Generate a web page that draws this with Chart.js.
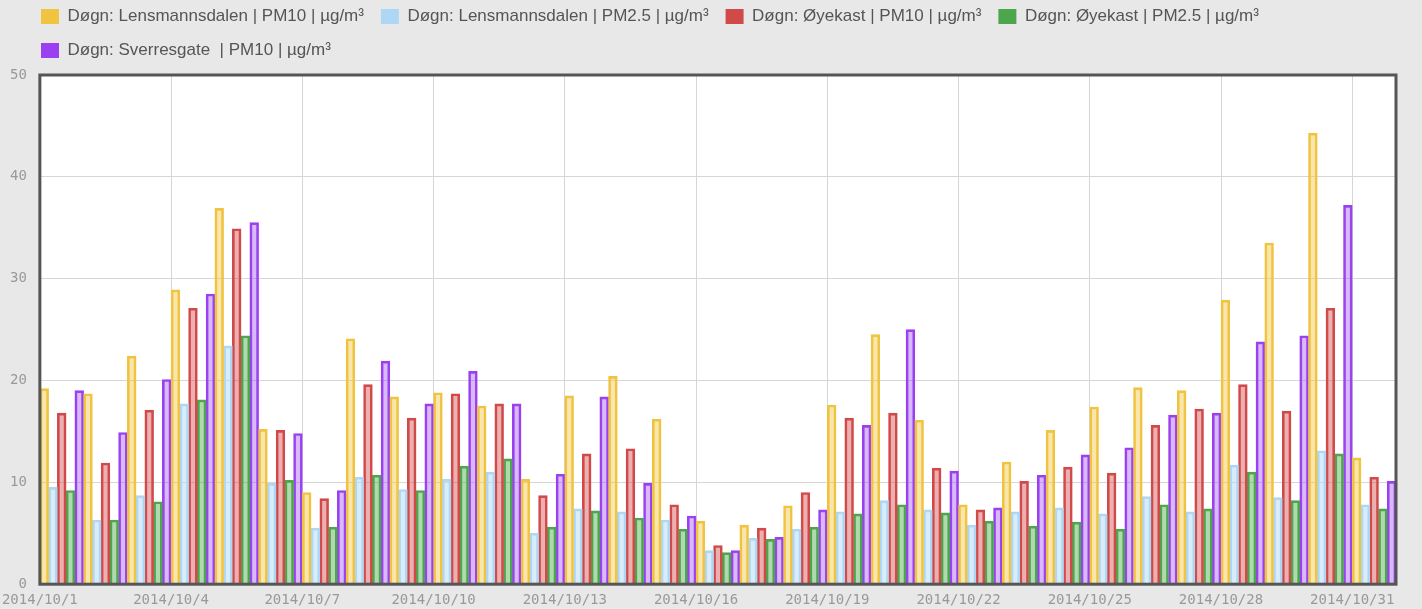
<!DOCTYPE html>
<html>
<head>
<meta charset="utf-8">
<script src="https://cdn.jsdelivr.net/npm/chart.js@4.4.1/dist/chart.umd.min.js"></script>
<style>
  html, body { margin: 0; padding: 0; background: #e8e8e8; }
  #wrap { width: 1422px; height: 609px; position: relative; }
</style>
</head>
<body>
<div id="wrap"><canvas id="pmChart"></canvas></div>
<script>
// Categories (one per day)
const dates = [
    '2014/10/1', '2014/10/2', '2014/10/3', '2014/10/4', '2014/10/5', '2014/10/6', '2014/10/7',
    '2014/10/8', '2014/10/9', '2014/10/10', '2014/10/11', '2014/10/12', '2014/10/13', '2014/10/14',
    '2014/10/15', '2014/10/16', '2014/10/17', '2014/10/18', '2014/10/19', '2014/10/20', '2014/10/21',
    '2014/10/22', '2014/10/23', '2014/10/24', '2014/10/25', '2014/10/26', '2014/10/27', '2014/10/28',
    '2014/10/29', '2014/10/30', '2014/10/31'
];
const xTickLabels = ['2014/10/1', '2014/10/4', '2014/10/7', '2014/10/10', '2014/10/13', '2014/10/16',
    '2014/10/19', '2014/10/22', '2014/10/25', '2014/10/28', '2014/10/31'];
const yTicks = [0, 10, 20, 30, 40, 50];

// Series values (µg/m³)
const lensPM10 = [19.2, 18.7, 22.4, 28.9, 36.9, 15.2, 9.0, 24.1, 18.4, 18.8, 17.5, 10.3, 18.5, 20.4, 16.2,
    6.2, 5.8, 7.7, 17.6, 24.5, 16.1, 7.8, 12.0, 15.1, 17.4, 19.3, 19.0, 27.9, 33.5, 44.3, 12.4];
const lensPM25 = [9.5, 6.3, 8.7, 17.7, 23.4, 9.9, 5.5, 10.5, 9.3, 10.3, 11.0, 5.0, 7.4, 7.1, 6.3,
    3.3, 4.5, 5.4, 7.1, 8.2, 7.3, 5.8, 7.1, 7.5, 6.9, 8.6, 7.1, 11.7, 8.5, 13.1, 7.8];
const oyePM10 = [16.8, 11.9, 17.1, 27.1, 34.9, 15.1, 8.4, 19.6, 16.3, 18.7, 17.7, 8.7, 12.8, 13.3, 7.8,
    3.8, 5.5, 9.0, 16.3, 16.8, 11.4, 7.3, 10.1, 11.5, 10.9, 15.6, 17.2, 19.6, 17.0, 27.1, 10.5];
const oyePM25 = [9.2, 6.3, 8.1, 18.1, 24.4, 10.2, 5.6, 10.7, 9.2, 11.6, 12.3, 5.6, 7.2, 6.5, 5.4,
    3.1, 4.4, 5.6, 6.9, 7.8, 7.0, 6.2, 5.7, 6.1, 5.4, 7.8, 7.4, 11.0, 8.2, 12.8, 7.4];
const sverrePM10 = [19.0, 14.9, 20.1, 28.5, 35.5, 14.8, 9.2, 21.9, 17.7, 20.9, 17.7, 10.8, 18.4, 9.9, 6.7,
    3.3, 4.6, 7.3, 15.6, 25.0, 11.1, 7.5, 10.7, 12.7, 13.4, 16.6, 16.8, 23.8, 24.4, 37.2, 10.1];

const seriesNames = [
    'Døgn: Lensmannsdalen | PM10 | µg/m³',
    'Døgn: Lensmannsdalen | PM2.5 | µg/m³',
    'Døgn: Øyekast | PM10 | µg/m³',
    'Døgn: Øyekast | PM2.5 | µg/m³',
    'Døgn: Sverresgate  | PM10 | µg/m³'
];

const monoFont = "'DejaVu Sans Mono', monospace";
const gridColor = '#d6d6d6';

function makeSet(label, data, border, fill) {
    return {
        label: label,
        data: data,
        backgroundColor: fill,
        borderColor: border,
        borderWidth: 2,
        xAxisID: 'x',
        yAxisID: 'y'
    };
}

// plot background + frame
const plotFrame = {
    id: 'plotFrame',
    beforeDraw(chart) {
        const { ctx, chartArea: a } = chart;
        ctx.save();
        ctx.fillStyle = '#ffffff';
        ctx.fillRect(a.left, a.top, a.right - a.left, a.bottom - a.top);
        ctx.restore();
    },
    afterDatasetsDraw(chart) {
        const { ctx, chartArea: a } = chart;
        ctx.save();
        ctx.strokeStyle = '#555555';
        ctx.lineWidth = 3;
        ctx.strokeRect(a.left, a.top, a.right - a.left, a.bottom - a.top);
        ctx.restore();
    }
};

// nudge legend to the left/top like the original
const legendShift = {
    id: 'legendShift',
    afterLayout(chart) {
        chart.legend.left += 27;
        chart.legend.top -= 6;
    }
};

const ctx = document.getElementById('pmChart').getContext('2d');
new Chart(ctx, {
    type: 'bar',
    data: {
        labels: dates,
        datasets: [
            makeSet(seriesNames[0], lensPM10, '#f0c341', 'rgba(242, 200, 70, 0.45)'),
            makeSet(seriesNames[1], lensPM25, '#add7f5', 'rgba(180, 218, 246, 0.5)'),
            makeSet(seriesNames[2], oyePM10, '#d04a4a', 'rgba(212, 80, 80, 0.45)'),
            makeSet(seriesNames[3], oyePM25, '#4ca64c', 'rgba(80, 170, 80, 0.45)'),
            makeSet(seriesNames[4], sverrePM10, '#9b40f0', 'rgba(160, 80, 242, 0.4)')
        ]
    },
    options: {
        responsive: true,
        maintainAspectRatio: false,
        animation: false,
        layout: {
            padding: { top: -3, right: 26, bottom: 0, left: -3 }
        },
        datasets: {
            bar: {
                categoryPercentage: 1.0,
                barPercentage: 1.0
            }
        },
        plugins: {
            tooltip: { enabled: false },
            legend: {
                position: 'top',
                align: 'start',
                labels: {
                    boxWidth: 18,
                    boxHeight: 15,
                    padding: 17,
                    color: '#555555',
                    font: { family: "'Liberation Sans', Arial, sans-serif", size: 17 },
                    generateLabels(chart) {
                        const items = Chart.defaults.plugins.legend.labels.generateLabels(chart);
                        items.forEach(it => {
                            it.fillStyle = it.strokeStyle;
                            it.lineWidth = 0;
                        });
                        return items;
                    }
                }
            }
        },
        scales: {
            x: {
                type: 'category',
                display: false,
                offset: true
            },
            x2: {
                type: 'linear',
                position: 'bottom',
                min: 0,
                max: dates.length,
                offset: false,
                afterBuildTicks(scale) {
                    scale.ticks = xTickLabels.map(l => ({ value: dates.indexOf(l) }));
                },
                ticks: {
                    autoSkip: false,
                    maxRotation: 0,
                    padding: 0,
                    color: '#999999',
                    font: { family: monoFont, size: 14 },
                    callback: function(value) {
                        return dates[value];
                    }
                },
                grid: {
                    offset: false,
                    color: gridColor,
                    drawTicks: true,
                    tickLength: 8,
                    tickColor: 'transparent'
                },
                border: { display: false }
            },
            y: {
                min: 0,
                max: 50,
                afterBuildTicks(scale) {
                    scale.ticks = yTicks.map(v => ({ value: v }));
                },
                ticks: {
                    padding: 13,
                    color: '#999999',
                    font: { family: monoFont, size: 14 }
                },
                grid: {
                    color: gridColor,
                    drawTicks: false
                },
                border: { display: false }
            }
        }
    },
    plugins: [plotFrame, legendShift]
});
</script>
</body>
</html>
